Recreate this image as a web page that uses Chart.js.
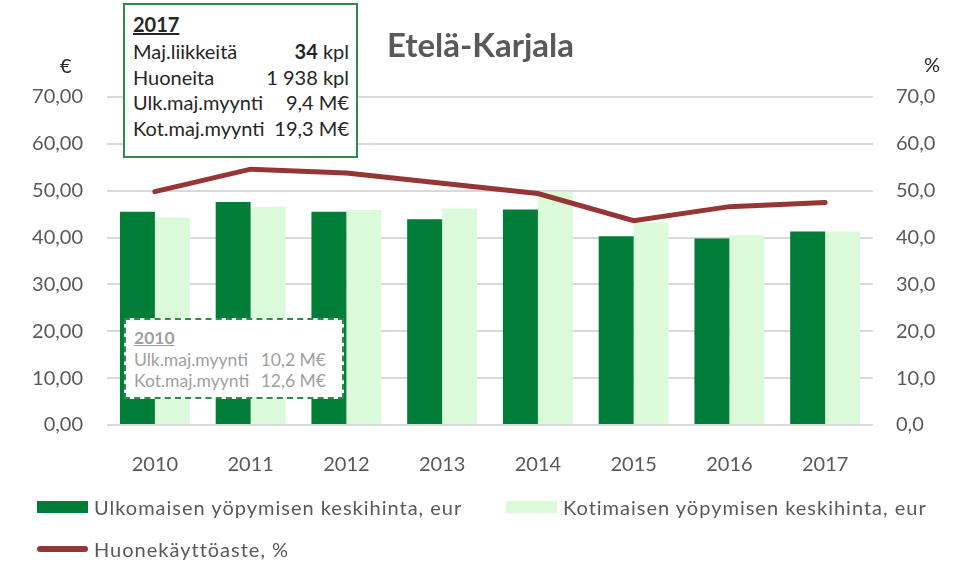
<!DOCTYPE html>
<html>
<head>
<meta charset="utf-8">
<script src="https://cdn.jsdelivr.net/npm/chart.js@4.4.0/dist/chart.umd.min.js"></script>
<style>
  body { margin: 0; background: #fff; font-family: Lato, sans-serif; color: #595959; }
  #wrap { position: relative; width: 957px; height: 572px; }
  canvas { position: absolute; left: 0; top: 0; }
  .lbl { position: absolute; font-size: 20px; color: #262626; }
  #title { position: absolute; left: 0; width: 957px; top: 24px; text-align: center; font-size: 33px; font-weight: bold; color: #595959; padding-left: 2px; }
  .box { position: absolute; background: #fff; box-sizing: border-box; }
  #box2017 { left: 123px; top: 3px; width: 235px; height: 155px; border: 2px solid #2e8b4a; font-size: 20px; color: #262626; padding: 7px 0 0 8px; }
  #box2010 { left: 124px; top: 318px; width: 220px; height: 81px; border: 2px dashed #2e8b4a; font-size: 17.5px; color: #a0a0a0; padding: 6px 0 0 8px; }
  .row { display: flex; justify-content: space-between; }
  #box2017 .row { height: 25.5px; line-height: 25.5px; padding-right: 7px; }
  #box2017 .row:first-child { height: 27px; }
  #box2010 .row { height: 20.5px; line-height: 20.5px; padding-right: 16px; }
  #box2010 .row:first-child { height: 24px; line-height: 24px; }
  .yr { font-weight: bold; text-decoration: underline; }
  #legend { position: absolute; left: 37px; top: 494px; font-size: 20px; color: #595959; letter-spacing: 1px; }
  .li { position: absolute; white-space: nowrap; display: flex; align-items: center; height: 26px; }
  .sw { display: inline-block; width: 51px; margin-right: 6px; }
</style>
</head>
<body>
<div id="wrap">
  <canvas id="grafico" width="957" height="572"></canvas>
  <div id="title">Etelä-Karjala</div>
  <div class="lbl" style="left:60px; top:53px;">€</div>
  <div class="lbl" style="left:924px; top:52px;">%</div>
  <div id="box2017" class="box">
    <div class="row"><span class="yr">2017</span></div>
    <div class="row"><span>Maj.liikkeitä</span><span><b>34</b> kpl</span></div>
    <div class="row"><span>Huoneita</span><span>1 938 kpl</span></div>
    <div class="row"><span>Ulk.maj.myynti</span><span>9,4 M€</span></div>
    <div class="row"><span>Kot.maj.myynti</span><span>19,3 M€</span></div>
  </div>
  <div id="box2010" class="box">
    <div class="row"><span class="yr">2010</span></div>
    <div class="row"><span>Ulk.maj.myynti</span><span>10,2 M€</span></div>
    <div class="row"><span>Kot.maj.myynti</span><span>12,6 M€</span></div>
  </div>
  <div id="legend"></div>
</div>
<script>
const vuodet = ['2010', '2011', '2012', '2013', '2014', '2015', '2016', '2017'];
const ulkomainen = [45.5, 47.6, 45.5, 43.9, 46.0, 40.3, 39.8, 41.3];
const kotimainen = [44.3, 46.6, 45.9, 46.2, 49.8, 43.2, 40.5, 41.3];
const kayttoaste = [49.8, 54.6, 53.8, 51.6, 49.4, 43.6, 46.6, 47.5];

const tummaVihrea = 'rgb(0, 125, 55)';
const vaaleaVihrea = 'rgb(218, 250, 218)';
const punainen = 'rgb(150, 54, 52)';

const dataYhdistelma = {
    labels: vuodet,
    datasets: [{
        type: 'line',
        label: 'Huonekäyttöaste, %',
        data: kayttoaste,
        yAxisID: 'y1',
        borderColor: punainen,
        backgroundColor: punainen,
        borderWidth: 5,
        pointRadius: 0,
        borderCapStyle: 'round',
        tension: 0
    }, {
        label: 'Ulkomaisen yöpymisen keskihinta, eur',
        data: ulkomainen,
        backgroundColor: tummaVihrea,
        yAxisID: 'y'
    }, {
        label: 'Kotimaisen yöpymisen keskihinta, eur',
        data: kotimainen,
        backgroundColor: vaaleaVihrea,
        yAxisID: 'y'
    }]
};

const tickFont = { family: 'Lato', size: 20 };

const configYhdistelma = {
    type: 'bar',
    data: dataYhdistelma,
    options: {
        responsive: false,
        animation: false,
        categoryPercentage: 0.73,
        barPercentage: 1,
        layout: { padding: { top: 97, left: 0, right: 0, bottom: 0 } },
        plugins: {
            legend: { display: false },
            title: { display: false },
            tooltip: { enabled: false }
        },
        scales: {
            x: {
                grid: { display: false },
                border: { display: false },
                ticks: { color: '#595959', font: tickFont, padding: 20 },
                afterFit: s => { s.height = 147; }
            },
            y: {
                position: 'left',
                min: 0,
                max: 70,
                ticks: {
                    stepSize: 10,
                    color: '#595959',
                    font: tickFont,
                    padding: 24,
                    callback: v => v.toFixed(2).replace('.', ',')
                },
                grid: { color: '#d9d9d9', lineWidth: 2, drawTicks: false },
                border: { display: false },
                afterFit: s => { s.width = 107; }
            },
            y1: {
                position: 'right',
                min: 0,
                max: 70,
                ticks: {
                    stepSize: 10,
                    color: '#595959',
                    font: tickFont,
                    padding: 23,
                    callback: v => v.toFixed(1).replace('.', ',')
                },
                grid: { display: false, drawTicks: false },
                border: { display: false },
                afterFit: s => { s.width = 84; }
            }
        }
    }
};

const ctx = document.getElementById('grafico').getContext('2d');
const kaavio = new Chart(ctx, configYhdistelma);

// selite omana html-osanaan, jotta rivit asettuvat kuten alkuperäisessä
const selite = document.getElementById('legend');
const paikat = [[0, 0], [469, 0], [0, 42]];
[1, 2, 0].forEach((i, n) => {
    const ds = dataYhdistelma.datasets[i];
    const el = document.createElement('div');
    el.className = 'li';
    el.style.left = paikat[n][0] + 'px';
    el.style.top = paikat[n][1] + 'px';
    const sw = document.createElement('span');
    sw.className = 'sw';
    if (ds.type === 'line') {
        sw.style.height = '6px';
        sw.style.borderRadius = '3px';
        sw.style.background = ds.borderColor;
    } else {
        sw.style.height = '12px';
        sw.style.background = ds.backgroundColor;
    }
    el.appendChild(sw);
    el.appendChild(document.createTextNode(ds.label));
    selite.appendChild(el);
});
</script>
</body>
</html>
